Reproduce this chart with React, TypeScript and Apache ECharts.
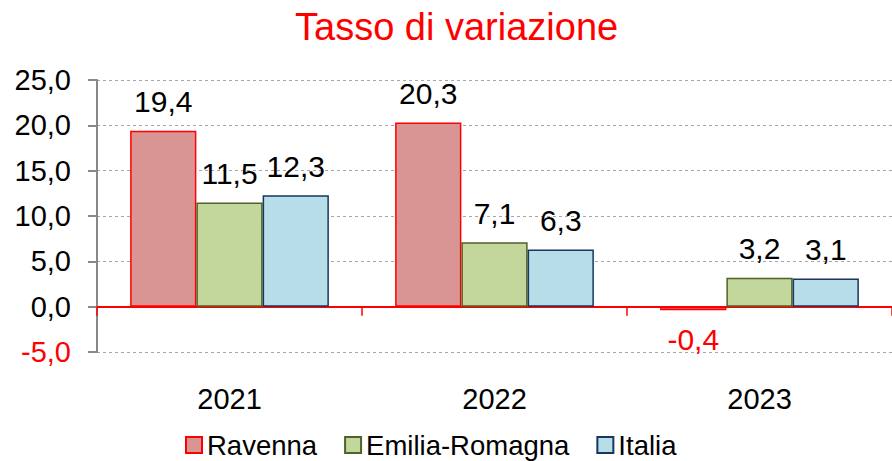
import React, { useEffect, useRef } from "react";
import * as echarts from "echarts";

const categories = ["2021", "2022", "2023"];
const ravenna = [19.4, 20.3, -0.4];
const emilia = [11.5, 7.1, 3.2];
const italia = [12.3, 6.3, 3.1];
const seriesNames = ["Ravenna", "Emilia-Romagna", "Italia"];
const titleText = "Tasso di variazione";

const FONT = "'Liberation Sans', Arial, sans-serif";
const fmt = (v: number) => v.toFixed(1).replace(".", ",");

export default function App() {
  const ref = useRef<HTMLDivElement>(null);
  useEffect(() => {
    if (!ref.current) return;
    const chart = echarts.init(ref.current, null, { renderer: "svg" });
    const mkSeries = (name: string, data: number[], fill: string, border: string) => ({
      name,
      type: "bar",
      xAxisIndex: 0,
      yAxisIndex: 0,
      barGap: "0%",
      barCategoryGap: "25%",
      data: data.map((v) => ({
        value: v,
        label: {
          position: v < 0 ? "bottom" : "top",
          color: v < 0 ? "#FF0000" : "#000000",
        },
      })),
      itemStyle: { color: fill, borderColor: border, borderWidth: 1.5 },
      label: {
        show: true,
        distance: 14,
        fontSize: 30,
        fontFamily: FONT,
        formatter: (p: any) => fmt(p.value),
      },
    });
    chart.setOption({
      animation: false,
      title: {
        text: titleText,
        left: 295,
        top: 8,
        padding: 0,
        textStyle: { color: "#FF0000", fontSize: 38, fontWeight: "normal", fontFamily: FONT },
      },
      legend: {
        left: 185,
        top: 431,
        padding: 0,
        itemWidth: 16,
        itemHeight: 16,
        itemGap: 27,
        icon: "rect",
        textStyle: { fontSize: 27.5, fontFamily: FONT, color: "#000" },
        data: seriesNames,
      },
      grid: { left: 97, right: -4.5, top: 80, bottom: 109, containLabel: false },
      xAxis: [
        {
          type: "category",
          data: categories,
          position: "bottom",
          axisLine: { show: false, onZero: false },
          axisTick: { show: false },
          axisLabel: { margin: 32, fontSize: 29, fontFamily: FONT, color: "#000" },
        },
        {
          type: "category",
          data: categories,
          position: "bottom",
          axisLine: { show: true, onZero: true, lineStyle: { color: "#FF0000", width: 2 } },
          axisTick: { show: true, length: 9, lineStyle: { color: "#FF0000", width: 1.5 } },
          axisLabel: { show: false },
          splitLine: { show: false },
        },
      ],
      yAxis: {
        type: "value",
        min: -5,
        max: 25,
        interval: 5,
        axisLine: { show: true, lineStyle: { color: "#888888", width: 2 } },
        axisTick: { show: true, length: 9, lineStyle: { color: "#888888", width: 2 } },
        axisLabel: {
          margin: 26,
          fontSize: 29,
          fontFamily: FONT,
          formatter: (v: number) => fmt(v),
          color: (v: any) => (Number(v) < 0 ? "#FF0000" : "#000000"),
        },
        splitLine: { show: true, lineStyle: { color: "#A6A6A6", type: [3, 3], width: 1 } },
      },
      series: [
        mkSeries(seriesNames[0], ravenna, "#D99594", "#FF0000"),
        mkSeries(seriesNames[1], emilia, "#C3D69B", "#4F6228"),
        mkSeries(seriesNames[2], italia, "#B7DEE8", "#17375E"),
      ],
    });
    return () => chart.dispose();
  }, []);
  return (
    <div
      ref={ref}
      style={{ position: "absolute", left: 0, top: 0, width: 892, height: 461, background: "#fff" }}
    />
  );
}
